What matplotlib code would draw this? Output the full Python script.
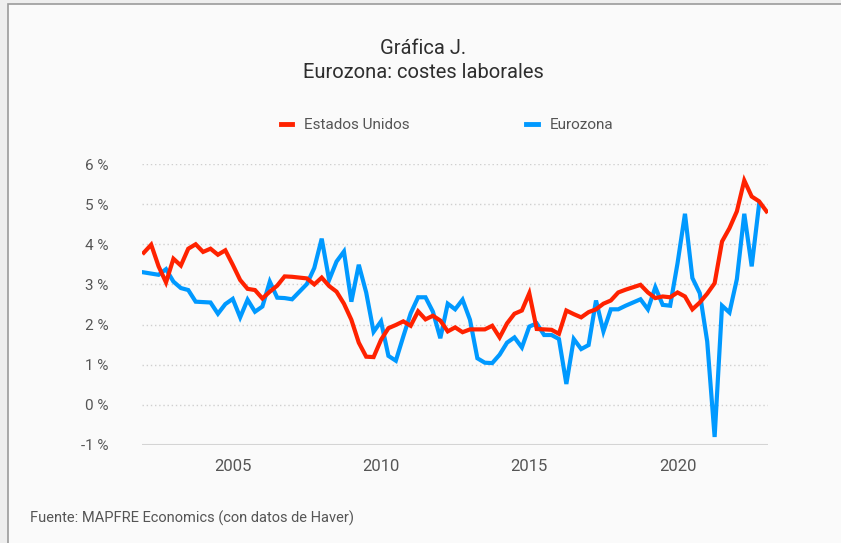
import numpy as np
import matplotlib
matplotlib.use("Agg")
import matplotlib.pyplot as plt
from matplotlib.patches import Rectangle
from matplotlib.lines import Line2D

plt.rcParams['font.family'] = ['Roboto', 'DejaVu Sans']

# quarterly data, 2002Q1 onwards (% y/y)
start_year = 2002
estados_unidos = [
    3.79, 3.99, 3.45, 3.05, 3.64, 3.47, 3.89, 4.00, 3.81, 3.89, 3.74, 3.85,
    3.49, 3.11, 2.89, 2.86, 2.65, 2.82, 2.97, 3.20, 3.19, 3.17, 3.15, 3.00,
    3.17, 2.96, 2.82, 2.52, 2.12, 1.55, 1.20, 1.19, 1.62, 1.91, 1.99, 2.08,
    1.97, 2.33, 2.13, 2.22, 2.10, 1.83, 1.93, 1.81, 1.88, 1.88, 1.88, 1.97,
    1.68, 2.03, 2.27, 2.35, 2.78, 1.89, 1.88, 1.87, 1.77, 2.35, 2.26, 2.18,
    2.31, 2.38, 2.52, 2.60, 2.80, 2.87, 2.93, 2.99, 2.80, 2.66, 2.70, 2.68,
    2.80, 2.70, 2.38, 2.55, 2.77, 3.03, 4.07, 4.40, 4.82, 5.59, 5.19, 5.07,
    4.82,
]
eurozona = [
    3.30, 3.27, 3.24, 3.38, 3.07, 2.91, 2.86, 2.57, 2.56, 2.55, 2.27, 2.51,
    2.64, 2.18, 2.62, 2.32, 2.45, 3.07, 2.67, 2.66, 2.63, 2.82, 3.01, 3.41,
    4.14, 3.11, 3.57, 3.82, 2.57, 3.49, 2.80, 1.82, 2.08, 1.22, 1.10, 1.70,
    2.28, 2.68, 2.68, 2.32, 1.66, 2.52, 2.38, 2.62, 2.12, 1.16, 1.05, 1.04,
    1.25, 1.55, 1.68, 1.43, 1.95, 2.03, 1.74, 1.74, 1.64, 0.52, 1.64, 1.39,
    1.49, 2.60, 1.83, 2.38, 2.38, 2.47, 2.55, 2.63, 2.38, 2.93, 2.49, 2.47,
    3.53, 4.76, 3.16, 2.78, 1.58, -0.80, 2.47, 2.30, 3.13, 4.76, 3.45, 5.00,
]
yticks = [-1, 0, 1, 2, 3, 4, 5, 6]
xticks = [2005, 2010, 2015, 2020]

red = '#ff2200'
blue = '#0099ff'
textcol = '#555555'

x_us = start_year + np.arange(len(estados_unidos)) / 4
x_ez = start_year + np.arange(len(eurozona)) / 4

fig = plt.figure(figsize=(8.41, 5.43), dpi=100, facecolor='#eeeeee')
# page frame
fig.patches.append(Rectangle((8 / 841, -0.1), 1.1, (543 - 4) / 543 + 0.1,
                             transform=fig.transFigure, facecolor='#fafafa',
                             edgecolor='#9a9a9a', linewidth=1.2, zorder=-10))

ax = fig.add_axes([142 / 841, 98 / 543, 626 / 841, 281 / 543])
ax.set_facecolor('none')
ax.set_zorder(5)

ax.plot(x_us, estados_unidos, color=red, linewidth=3, solid_joinstyle='miter',
        zorder=3)
ax.plot(x_ez, eurozona, color=blue, linewidth=3, solid_joinstyle='miter',
        zorder=2)

ax.set_xlim(2001.94, 2023.05)
ax.set_ylim(-1, 6)

for s in ax.spines.values():
    s.set_visible(False)
for v in yticks[1:]:
    ax.axhline(v, color='#cfcfcf', linewidth=1, linestyle=(0, (1, 2)), zorder=1)
ax.axhline(-1, color='#d4d4d4', linewidth=1.5, zorder=1)

ax.set_yticks(yticks)
ax.set_yticklabels([f'{v} %' for v in yticks])
ax.set_xticks(xticks)
ax.set_xticklabels([str(v) for v in xticks])
ax.tick_params(axis='y', length=0, pad=24, labelsize=11, labelcolor=textcol)
ax.tick_params(axis='x', length=0, pad=10, labelsize=12, labelcolor=textcol)

fig.text(423 / 841, 1 - 48 / 543, 'Gráfica J.', ha='center', va='center',
         fontsize=14.5, color='#2e2e2e')
fig.text(423 / 841, 1 - 73 / 543, 'Eurozona: costes laborales', ha='center',
         va='center', fontsize=14.5, color='#2e2e2e')

# legend
handles = [Line2D([], [], color=red, linewidth=3.5),
           Line2D([], [], color=blue, linewidth=3.5)]
fig.legend(handles, ['Estados Unidos', 'Eurozona'], loc='center',
           bbox_to_anchor=(447 / 841, 1 - 125 / 543), ncol=2, frameon=False,
           fontsize=11, handlelength=0.75, handletextpad=0.8, columnspacing=7.6,
           labelcolor=textcol)

fig.text(30 / 841, 1 - 518 / 543, 'Fuente: MAPFRE Economics (con datos de Haver)',
         ha='left', va='center', fontsize=10.5, color=textcol)

fig.savefig('out.png', dpi=100, facecolor=fig.get_facecolor())
